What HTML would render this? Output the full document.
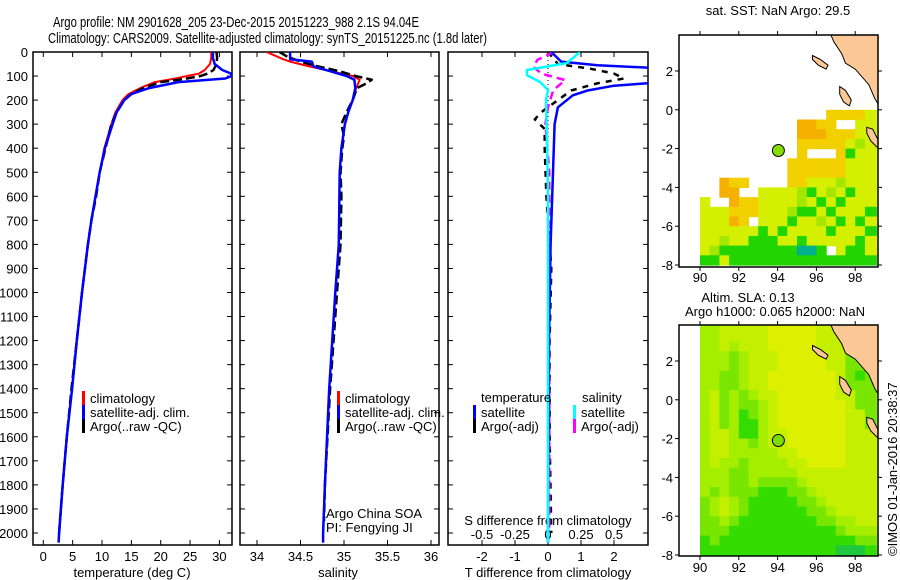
<!DOCTYPE html>
<html><head><meta charset="utf-8">
<style>
html,body{margin:0;padding:0;background:#fff;}
svg{display:block;font-family:"Liberation Sans",sans-serif;}
text{fill:#000;}
</style></head>
<body>
<svg id="fig" width="900" height="580" viewBox="0 0 900 580" xmlns="http://www.w3.org/2000/svg">
<defs>
<clipPath id="c1"><rect x="33" y="52" width="199" height="493"/></clipPath>
<clipPath id="c2"><rect x="240" y="52" width="199" height="493"/></clipPath>
<clipPath id="c3"><rect x="448" y="52" width="200" height="493"/></clipPath>
<clipPath id="cm1"><rect x="679" y="35" width="199" height="232"/></clipPath>
<clipPath id="cm2"><rect x="679" y="325" width="199" height="231"/></clipPath>
</defs>
<text x="53" y="27" font-size="15" textLength="366" lengthAdjust="spacingAndGlyphs">Argo profile: NM 2901628_205 23-Dec-2015 20151223_988 2.1S 94.04E</text>
<text x="48" y="43" font-size="15" textLength="439" lengthAdjust="spacingAndGlyphs">Climatology: CARS2009. Satellite-adjusted climatology: synTS_20151225.nc (1.8d later)</text>
<g id="g1"></g>
<g id="g2"></g>
<g id="g3"></g>
<g id="m1"></g>
<g id="m2"></g>
<text x="0" y="0" font-size="13" transform="translate(897,556) rotate(-90)">©IMOS 01-Jan-2016 20:38:37</text>
</svg>
<script>
// ---- profile data ----
const tempDepth=[0,25,50,75,90,100,110,125,150,175,200,250,300,400,500,600,700,800,1000,1200,1400,1600,1800,2000,2040];
const tempClim=[28.6,28.6,28.4,27.5,26.5,24.5,22.5,19,16.5,14.5,13.5,12.3,11.6,10.4,9.6,8.9,8.2,7.6,6.6,5.7,4.9,4.0,3.3,2.7,2.6];
const tempSat=[28.9,28.9,29.2,30.5,32,32.1,31,23,18,15,13.8,12.5,11.8,10.5,9.6,8.9,8.2,7.6,6.6,5.7,4.9,4.0,3.3,2.7,2.6];
const argoTDepth=[0,25,50,75,90,100,110,125,150,175,200,250,300,400,500,600,700,800,1000,1200,1400,1600,1800,2000];
const tempArgo=[29.5,29.6,29.5,29,28,26.8,24.5,20,17,15,13.8,12.5,11.6,10.6,9.6,9.0,8.2,7.6,6.6,5.7,4.8,4.0,3.3,2.7];
const salDepth=[0,30,40,60,80,100,115,150,200,250,300,400,500,800,1000,1400,1800,2000,2040];
const salClim=[34.11,34.3,34.38,34.6,34.85,35.1,35.18,35.14,35.1,35.05,35.01,34.97,34.95,34.94,34.9,34.83,34.78,34.76,34.76];
const salSat=[34.38,34.38,34.63,34.65,34.84,35.03,35.12,35.13,35.1,35.05,35.01,34.97,34.95,34.94,34.9,34.83,34.78,34.76,34.76];
const argoSDepth=[0,20,40,60,80,100,115,130,150,200,250,300,350,400,500,600,800,1000,1400,1800,1950];
const salArgo=[34.26,34.35,34.5,34.7,34.95,35.13,35.32,35.26,35.15,35.1,35.03,34.97,35.0,34.98,34.96,34.97,34.96,34.92,34.84,34.78,34.77];
const tdDepth=[0,40,55,65,75,90,110,125,140,160,180,230,300,500,800,1200,2000,2040];
const tdSat=[0.1,0.4,1.5,3,4,5,5,3.5,2,1.2,0.75,0.3,0.2,0.15,0.08,0.03,0,0];
const tdArgoDepth=[0,50,70,90,110,130,160,200,250,280,320,400,600,900,1200,1600,2000];
const tdArgo=[0,0.3,1.3,2,2.3,1.5,0.7,0.3,-0.2,-0.4,-0.1,-0.1,-0.05,0.1,0.05,0.05,0.1];
const sdDepth=[0,20,46,75,96,125,158,200,300,600,1000,2040];
const sdSat=[0.24,0.2,0.14,-0.16,-0.16,-0.06,0,-0.015,-0.01,0,0,0];
const sdArgoDepth=[0,33,62,90,117,140,158,229,300,500,800,1200,2000];
const sdArgo=[0.04,-0.08,-0.11,-0.05,0.13,0.08,0.04,0,-0.02,0.01,0.01,0.01,0.01];
const depthTicks=[0,100,200,300,400,500,600,700,800,900,1000,1100,1200,1300,1400,1500,1600,1700,1800,1900,2000];
const tempTicks=[0,5,10,15,20,25,30];
const salTicks=[34,34.5,35,35.5,36];
const salTickLabels=["34","34.5","35","35.5","36"];
const tdTicks=[-2,-1,0,1,2];
const sdTicks=[-0.5,-0.25,0,0.25,0.5];
const sdTickLabels=["-0.5","-0.25","0","0.25","0.5"];
// ---- map data ----
const lonTicks=[90,92,94,96,98];
const latTicks=[2,0,-2,-4,-6,-8];
const argoLon=94.04, argoLat=-2.1;
const sstCodes={o:30.0,y:29.7,l:29.3,g:29.0,G:28.6,t:28.2};
const sstRows=[
".............yyyyl",
"..........ooyy..ll",
"..........oooyyyll",
"..........yyyyylgl",
"..........y...yGll",
".........yyyyyylll",
".........yyyyyylll",
"..oyy....yylllglll",
"..oo..llllgGlglGll",
"l..oyyllllglGlGlll",
"lllyyylllgGGlGlllG",
"llloy.lllGllglGlGl",
"llllllGlGllllGlllG",
"llgllGGGllGlllllGl",
"lgGGGGGGGGttG.lGGl",
"GGlGGGGGGGGGGGGGGG"];
const slaCodes={Y:0.16,y:0.13,l:0.10,g:0.07,G:0.03,D:0.0};
const slaRows=[
"llyyyyyYYYYYyyyggg","llyyyyyYYYYYyyyggg","llylyyyYYYYYyyyggg","lllglyyyYYYYYyyggg",
"lllglyyyYYYYYyyggg","llgglyyYYYYYYYygGg","llgglyyYYYYYYYyggg","lyglglyyYYYYYYyygg",
"lyglgglyYYYYYYYygg","lyglGglyYYYYYYYyyg","lyglGGlyYYYYYYYyyg","lyylGGlyyYYYYYYyyy",
"lyyllglyyYYYYYYyyy","lyylllllyyYYYYYyyy","lyllgllllyyYYYYyyy","lllgglllllyyyyyyyy",
"lllgglgggglyyyyyyy","lglgggGGGgglyyyyyy","glylgGGGGGgglyyyyy","glylgGGGGGGgglyyyy",
"gglgGGGGGGGGggllyy","gggGGGGGGGGGGGglll","GgGGGGGGGGGGGGGGgg","GGGGGGGGGGGGGGDDDG"];

const NS="http://www.w3.org/2000/svg";
function mk(tag,attrs,parent){const e=document.createElementNS(NS,tag);for(const k in attrs)e.setAttribute(k,attrs[k]);parent.appendChild(e);return e;}
const yD=d=>52+d*0.2405;

function frame(g,x0,x1,y0,y1,name){
  const r=mk('rect',{x:x0,y:y0,width:x1-x0,height:y1-y0,fill:'none',stroke:'#000','stroke-width':1.5},g);
  
  
}
function line(g,xs,ys,sx,color,w,dash,clip,name){
  let p='';
  for(let i=0;i<xs.length;i++){p+=(i?'L':'M')+sx(xs[i]).toFixed(1)+' '+yD(ys[i]).toFixed(1);}
  const a={d:p,fill:'none',stroke:color,'stroke-width':w,'stroke-linejoin':'round','clip-path':'url(#'+clip+')'};
  if(dash)a['stroke-dasharray']=dash;
  const e=mk('path',a,g);
  
  
}
function txt(g,x,y,s,size,anchor,name){
  const t=mk('text',{x:x,y:y,'font-size':size,'text-anchor':anchor||'start'},g);t.textContent=s;
  
  
  return t;
}
function yticks(g,x0,x1,labels){
  depthTicks.forEach(d=>{const y=yD(d);
    mk('line',{x1:x0,x2:x0+5,y1:y,y2:y,stroke:'#000'},g);
    mk('line',{x1:x1-5,x2:x1,y1:y,y2:y,stroke:'#000'},g);
    if(labels){txt(g,28,y+5,String(d),13,'end','depth-tick-label');}
  });
}
function xticks(g,ticks,sx,labels,ly,name){
  ticks.forEach((v,i)=>{const x=sx(v);
    mk('line',{x1:x,x2:x,y1:52,y2:57,stroke:'#000'},g);
    mk('line',{x1:x,x2:x,y1:540,y2:545,stroke:'#000'},g);
    if(labels)txt(g,x,ly,labels[i],13,'middle',name);
  });
}
function legendBar(g,x,y,color,label,name){
  const r=mk('rect',{x:x,y:y-7,width:3,height:14,fill:color},g);
  
  
  txt(g,x+8,y+5,label,13,'start',name);
}

// Panel 1: temperature
const g1=document.getElementById('g1');
const sxT=v=>43.3+v*5.87;
frame(g1,33,232,52,545,'temperature-axes-frame');
yticks(g1,33,232,true);
xticks(g1,tempTicks,sxT,tempTicks.map(String),561,'temperature-tick-label');
txt(g1,132,577,'temperature (deg C)',13,'middle','temperature-axis-title');
line(g1,tempClim,tempDepth,sxT,'#ff0000',2,null,'c1','temperature-climatology-line');
line(g1,tempArgo,argoTDepth,sxT,'#000',2.5,'9 4','c1','temperature-argo-line');
line(g1,tempSat,tempDepth,sxT,'#0000ff',2.5,null,'c1','temperature-satellite-line');
legendBar(g1,82,398,'#ff0000','climatology','legend-climatology');
legendBar(g1,82,412,'#0000ff','satellite-adj. clim.','legend-satellite-adj');
legendBar(g1,82,426,'#000','Argo(..raw -QC)','legend-argo');

// Panel 2: salinity
const g2=document.getElementById('g2');
const sxS=v=>257+(v-34)*87;
frame(g2,240,439,52,545,'salinity-axes-frame');
yticks(g2,240,439,false);
xticks(g2,salTicks,sxS,salTickLabels,561,'salinity-tick-label');
txt(g2,338,577,'salinity',13,'middle','salinity-axis-title');
line(g2,salClim,salDepth,sxS,'#ff0000',2,null,'c2','salinity-climatology-line');
line(g2,salArgo,argoSDepth,sxS,'#000',2.5,'9 4','c2','salinity-argo-line');
line(g2,salSat,salDepth,sxS,'#0000ff',2.5,null,'c2','salinity-satellite-line');
legendBar(g2,337,398,'#ff0000','climatology','legend-climatology');
legendBar(g2,337,412,'#0000ff','satellite-adj. clim.','legend-satellite-adj');
legendBar(g2,337,426,'#000','Argo(..raw -QC)','legend-argo');
txt(g2,326,518,'Argo China SOA',13,'start','float-owner-label');
txt(g2,326,532,'PI: Fengying JI',13,'start','pi-label');

// Panel 3: differences
const g3=document.getElementById('g3');
const sxTD=v=>548+v*33;
const sxSD=v=>548+v*132;
frame(g3,448,648,52,545,'difference-axes-frame');
yticks(g3,448,648,false);
xticks(g3,tdTicks,sxTD,tdTicks.map(String),561,'t-difference-tick-label');
sdTicks.forEach((v,i)=>txt(g3,sxSD(v),539,sdTickLabels[i],13,'middle','s-difference-tick-label'));
txt(g3,548,525,'S difference from climatology',13,'middle','s-difference-axis-title');
txt(g3,548,577,'T difference from climatology',13,'middle','t-difference-axis-title');
mk('line',{x1:548,x2:548,y1:52,y2:545,stroke:'#000','stroke-dasharray':'1 3'},g3);
line(g3,tdArgo,tdArgoDepth,sxTD,'#000',2.5,'6 6','c3','t-diff-argo-line');
line(g3,sdArgo,sdArgoDepth,sxSD,'#ff00ff',2.5,'8 5','c3','s-diff-argo-line');
line(g3,tdSat,tdDepth,sxTD,'#0000ff',2.5,null,'c3','t-diff-satellite-line');
line(g3,sdSat,sdDepth,sxSD,'#00ffff',2.5,null,'c3','s-diff-satellite-line');
txt(g3,481,402,'temperature',13,'start','legend-temperature-heading');
txt(g3,582,402,'salinity',13,'start','legend-salinity-heading');
legendBar(g3,473,412,'#0000ff','satellite','legend-t-satellite');
legendBar(g3,473,426,'#000','Argo(-adj)','legend-t-argo');
legendBar(g3,573,412,'#00ffff','satellite','legend-s-satellite');
legendBar(g3,573,426,'#ff00ff','Argo(-adj)','legend-s-argo');

// ---- maps ----
const mx=lon=>700+(lon-90)*19.4;
function sstColor(v){
  if(v>=29.9)return '#f5b000'; if(v>=29.6)return '#f2d000'; if(v>=29.2)return '#d4f000';
  if(v>=28.9)return '#a4e600'; if(v>=28.5)return '#22d400'; return '#00b090';
}
function slaColor(v){
  if(v>=0.15)return '#dcf000'; if(v>=0.12)return '#c4f000'; if(v>=0.09)return '#a6ee00';
  if(v>=0.06)return '#78e600'; if(v>=0.02)return '#34dc00'; return '#20c840';
}
function land(g,my,clip){
  const P=(lon,lat)=>mx(lon).toFixed(1)+','+my(lat).toFixed(1);
  const polys=[
    [[96.6,4.2],[96.9,3.5],[97.3,2.9],[97.5,2.4],[98.0,2.1],[98.7,1.3],[99.0,0.6],[99.3,0.1],[99.3,4.2]],
    [[95.8,2.8],[96.2,2.6],[96.6,2.3],[96.5,2.1],[96.1,2.3],[95.8,2.6]],
    [[97.2,1.2],[97.5,1.0],[97.8,0.5],[97.7,0.2],[97.4,0.4],[97.2,0.8]],
    [[98.6,-0.9],[98.9,-1.0],[99.2,-1.6],[99.2,-2.0],[98.8,-1.6],[98.6,-1.2]]
  ];
  polys.forEach(pl=>{
    const e=mk('polygon',{points:pl.map(p=>P(p[0],p[1])).join(' '),fill:'#fcc896',stroke:'#000','stroke-width':1,'clip-path':'url(#'+clip+')'},g);
    
    
  });
}
function mapAxes(g,top,bottom,my,lonLabelY,name){
  frame(g,679,878,top,bottom,name+'-frame');
  lonTicks.forEach(l=>{const x=mx(l);
    mk('line',{x1:x,x2:x,y1:top,y2:top-4,stroke:'#000'},g);
    mk('line',{x1:x,x2:x,y1:bottom,y2:bottom+4,stroke:'#000'},g);
    txt(g,x,lonLabelY,String(l),13,'middle',name+'-lon-label');});
  latTicks.forEach(l=>{const y=my(l);
    mk('line',{x1:679,x2:675,y1:y,y2:y,stroke:'#000'},g);
    mk('line',{x1:878,x2:882,y1:y,y2:y,stroke:'#000'},g);
    txt(g,673,y+5,String(l),13,'end',name+'-lat-label');});
}
// Map 1 SST
const m1=document.getElementById('m1');
const my1=lat=>71+(2-lat)*19.4;
sstRows.forEach((row,r)=>{
  for(let c=0;c<row.length;c++){const ch=row[c]; if(ch==='.')continue;
    const lon=90+c*0.5, lat=-r*0.5;
    const cell=mk('rect',{x:mx(lon).toFixed(1),y:my1(lat).toFixed(1),width:(c===row.length-1?12:10.3),height:10.3,fill:sstColor(sstCodes[ch]),'clip-path':'url(#cm1)'},m1);
    
    
  }
});
land(m1,my1,'cm1');
const a1=mk('circle',{cx:mx(argoLon),cy:my1(argoLat),r:6,fill:'#84dc00',stroke:'#000','stroke-width':1},m1);


mapAxes(m1,35,267,my1,282,'sst-map');
txt(m1,778,15,'sat. SST: NaN Argo: 29.5',13,'middle','sst-map-title');
// Map 2 SLA
const m2=document.getElementById('m2');
const my2=lat=>361+(2-lat)*19.4;
slaRows.forEach((row,r)=>{
  for(let c=0;c<row.length;c++){const ch=row[c];
    const lon=90+c*0.5, lat=4-r*0.5;
    const cell=mk('rect',{x:mx(lon).toFixed(1),y:my2(lat).toFixed(1),width:(c===row.length-1?12:10.3),height:10.3,fill:slaColor(slaCodes[ch]),'clip-path':'url(#cm2)'},m2);
    
    
  }
});
land(m2,my2,'cm2');
const a2=mk('circle',{cx:mx(argoLon),cy:my2(argoLat),r:6,fill:'#7cdc00',stroke:'#000','stroke-width':1},m2);


mapAxes(m2,325,556,my2,572,'sla-map');
txt(m2,748,302,'Altim. SLA: 0.13',13,'middle','sla-map-title-1');
txt(m2,775,316,'Argo h1000: 0.065 h2000: NaN',13,'middle','sla-map-title-2');
</script>
</body></html>
